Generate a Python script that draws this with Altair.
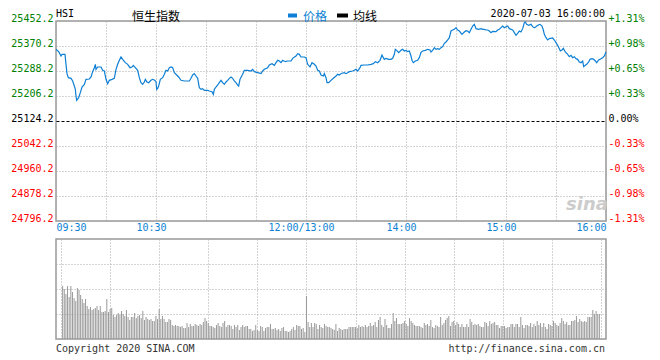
import altair as alt
import pandas as pd

# ---------------- data ----------------
price_minutes = [0, 1.6, 3, 3.6, 5.4, 6, 6.6, 7.4, 9, 10, 11, 11.6, 12, 12.4, 13.6, 14.6, 15.6, 17, 18, 20,
                 21, 22, 23, 23.6, 24, 25, 27, 28, 29, 30, 31, 32, 33.6, 35, 36, 37, 38, 39, 40, 41.6,
                 43, 44.4, 45.6, 46.4, 48, 49, 50, 51, 52, 53, 53.6, 54.4, 55.6, 57, 58, 59.2, 60, 60.4, 61, 61.6,
                 62.6, 64, 65, 66, 67, 68, 69, 70, 71, 72.4, 73.6, 75, 77, 80, 81, 82, 83, 84, 85, 86,
                 87, 88, 89, 91, 92, 93.6, 94.4, 95, 96, 97, 98, 99, 100, 101, 102, 103, 104, 105, 106, 107,
                 108, 109, 109.6, 110.4, 112, 113, 115, 117, 118, 119, 121, 123, 124, 125, 127, 128, 129.6, 131, 132, 133,
                 134, 135, 136, 137.6, 139, 141, 142, 144, 145, 146, 147, 149, 150, 151, 152.4, 153.6, 155, 156, 157, 158,
                 159, 160.4, 161, 162, 162.6, 163.6, 165, 166.4, 168, 169, 170, 171, 172, 173, 174, 175, 176, 178, 179, 180,
                 181, 182.4, 183, 185, 187, 189, 190.4, 191.6, 193, 194.4, 195.6, 196.4, 197, 198, 199.6, 201, 202, 203, 203.6, 204.4,
                 205.6, 207, 208, 209, 210, 211, 212, 213, 213.6, 214.4, 215.6, 217, 218, 219, 220, 221.6, 223, 224.4, 225, 226,
                 227, 228, 229, 230, 231, 232, 233, 234, 235, 236, 237, 238, 239, 240, 241, 242, 243.6, 245, 246, 247,
                 248, 249, 250, 251, 252, 253.6, 255, 256, 257, 258, 259, 260, 261, 262, 264, 265, 266, 267, 268, 269,
                 270, 271, 272, 274, 275, 276, 277, 278, 279, 280, 281, 281.6, 282.4, 283.6, 285, 286, 287, 288, 289, 290.4,
                 291.6, 292.4, 293, 294, 295, 296, 298, 299, 300, 301, 302, 302.6, 303.6, 304.4, 305.6, 307, 308, 309, 310, 311,
                 312, 313, 314, 315, 316, 316.6, 317.6, 318.4, 319.6, 320.4, 321.6, 322.6, 323.6, 324.4, 325.6, 327, 328, 329, 330]
price_values = [25359.3, 25351.6, 25337.4, 25342.9, 25342.9, 25310.1, 25279.5, 25266.3, 25264.2, 25255.4,
                25239.0, 25228.1, 25206.2, 25192.0, 25200.7, 25217.1, 25235.7, 25244.5, 25260.9, 25262.0,
                25268.5, 25286.0, 25299.1, 25310.1, 25293.7, 25301.3, 25301.3, 25290.4, 25288.2, 25260.9,
                25246.7, 25257.6, 25260.9, 25264.2, 25293.7, 25310.1, 25323.2, 25334.1, 25326.5, 25315.5,
                25310.1, 25299.1, 25301.3, 25306.8, 25297.0, 25290.4, 25266.3, 25249.9, 25244.5, 25252.1,
                25260.9, 25253.2, 25249.9, 25257.6, 25260.9, 25257.6, 25253.2, 25228.1, 25231.4, 25239.0,
                25260.9, 25266.3, 25277.3, 25290.4, 25288.2, 25299.1, 25301.3, 25299.1, 25282.7, 25275.1,
                25268.5, 25257.6, 25255.4, 25255.4, 25264.2, 25275.1, 25279.5, 25271.8, 25264.2, 25233.5,
                25228.1, 25230.3, 25224.8, 25224.8, 25222.6, 25220.4, 25211.7, 25228.1, 25235.7, 25242.3,
                25249.9, 25257.6, 25249.9, 25244.5, 25252.1, 25257.6, 25264.2, 25268.5, 25264.2, 25255.4,
                25249.9, 25242.3, 25239.0, 25260.9, 25277.3, 25290.4, 25290.4, 25288.2, 25293.7, 25286.0,
                25282.7, 25279.5, 25288.2, 25293.7, 25299.1, 25307.9, 25312.3, 25306.8, 25315.5, 25323.2,
                25321.0, 25315.5, 25323.2, 25318.8, 25321.0, 25321.0, 25329.8, 25337.4, 25345.1, 25342.9,
                25334.1, 25334.1, 25331.9, 25310.1, 25301.3, 25315.5, 25310.1, 25304.6, 25290.4, 25288.2,
                25275.1, 25271.8, 25279.5, 25266.3, 25249.9, 25249.9, 25257.6, 25264.2, 25271.8, 25277.3,
                25275.1, 25279.5, 25281.6, 25282.7, 25279.5, 25282.7, 25286.0, 25288.2, 25290.4, 25293.7,
                25288.2, 25299.1, 25306.8, 25307.9, 25307.9, 25310.1, 25312.3, 25318.8, 25315.5, 25323.2,
                25340.7, 25331.9, 25326.5, 25329.8, 25326.5, 25326.5, 25329.8, 25342.9, 25359.3, 25356.0,
                25348.3, 25356.0, 25359.3, 25353.8, 25356.0, 25351.6, 25353.8, 25337.4, 25323.2, 25315.5,
                25321.0, 25323.2, 25331.9, 25349.5, 25353.8, 25356.0, 25359.3, 25357.1, 25350.5, 25356.0,
                25364.7, 25359.3, 25361.5, 25359.3, 25364.7, 25368.0, 25378.9, 25383.3, 25389.9, 25397.5,
                25419.4, 25422.7, 25424.9, 25430.3, 25422.7, 25419.4, 25408.5, 25416.1, 25420.5, 25419.4,
                25413.9, 25424.9, 25435.8, 25441.3, 25427.1, 25424.9, 25427.1, 25424.9, 25424.9, 25422.7,
                25422.7, 25419.4, 25413.9, 25418.3, 25417.2, 25422.7, 25424.9, 25430.3, 25435.8, 25430.3,
                25433.6, 25435.8, 25427.1, 25422.7, 25413.9, 25405.2, 25411.7, 25419.4, 25416.1, 25427.1,
                25446.7, 25448.9, 25441.3, 25438.0, 25441.3, 25433.6, 25430.3, 25433.6, 25438.0, 25441.3,
                25435.8, 25422.7, 25408.5, 25397.5, 25389.9, 25394.3, 25396.4, 25389.9, 25381.1, 25372.4,
                25361.5, 25353.8, 25357.1, 25362.5, 25350.5, 25342.9, 25335.2, 25339.6, 25331.9, 25335.2,
                25328.7, 25326.5, 25317.7, 25315.5, 25321.0, 25302.4, 25306.8, 25310.1, 25317.7, 25326.5,
                25328.7, 25326.5, 25321.0, 25315.5, 25324.3, 25328.7, 25331.9, 25337.4, 25350.5]

volume_values = [53, 50, 45, 53, 42, 53, 47, 41, 38, 51, 49, 44, 40, 36, 40, 33, 30, 32, 29, 30,
                 31, 33, 29, 33, 27, 27, 28, 40, 27, 30, 31, 24, 22, 24, 26, 24, 28, 25, 23, 29,
                 22, 19, 22, 22, 26, 21, 23, 24, 21, 28, 19, 22, 20, 19, 20, 18, 18, 23, 20, 30,
                 20, 23, 20, 17, 17, 20, 19, 14, 13, 14, 13, 13, 12, 13, 11, 11, 16, 12, 15, 13,
                 13, 15, 14, 13, 15, 14, 17, 21, 18, 16, 13, 13, 12, 11, 14, 16, 13, 12, 16, 18,
                 12, 14, 14, 13, 10, 14, 12, 14, 9, 12, 14, 12, 13, 13, 10, 10, 8, 9, 14, 9,
                 8, 13, 12, 8, 11, 12, 12, 15, 10, 10, 11, 9, 10, 8, 11, 12, 8, 8, 7, 8,
                 10, 12, 9, 14, 13, 13, 10, 11, 7, 43, 17, 12, 16, 12, 16, 15, 10, 14, 12, 11,
                 15, 13, 12, 12,
                 11, 10, 9, 15, 8, 11, 10, 9, 10, 10, 10, 12, 12, 12, 12, 12, 11, 14, 12, 13,
                 12, 14, 12, 13, 16, 13, 14, 17, 12, 19, 22, 14, 12, 20, 14, 11, 11, 15, 26, 18,
                 21, 15, 15, 15, 16, 18, 15, 13, 21, 18, 16, 14, 13, 13, 13, 12, 11, 16, 14, 15,
                 13, 19, 12, 11, 14, 13, 12, 22, 14, 16, 19, 21, 23, 13, 17, 18, 14, 17, 15, 12,
                 15, 12, 12, 15, 12, 20, 17, 14, 15, 14, 15, 13, 12, 12, 17, 16, 13, 18, 15, 16,
                 17, 14, 14, 11, 13, 13, 13, 11, 12, 12, 15, 15, 12, 15, 15, 12, 22, 14, 11, 14,
                 14, 13, 16, 12, 15, 13, 18, 14, 16, 12, 16, 12, 10, 15, 14, 13, 18, 16, 14, 13,
                 16, 21, 18, 15, 17, 14, 14, 18, 18, 19, 23, 17, 20, 18, 17, 18, 17, 22, 22, 22,
                 29, 25, 28, 25, 25]
volume_minutes = list(range(1, len(volume_values) + 1))

prev_close = 25124.2
price_ticks = [24796.2, 24878.2, 24960.2, 25042.2, 25124.2, 25206.2, 25288.2, 25370.2, 25452.2]
grid_minutes = [0, 30, 60, 90, 120, 150, 180, 210, 240, 270, 300, 330]
time_tick_minutes = [0, 60, 150, 210, 270, 330]
time_tick_labels = ["09:30", "10:30", "12:00/13:00", "14:00", "15:00", "16:00"]
volume_grid = [25, 50, 75]

header_code = "HSI"
header_name = "恒生指数"
legend_price = "价格"
legend_avg = "均线"
header_time = "2020-07-03 16:00:00"
footer_left = "Copyright 2020 SINA.COM"
footer_right = "http://finance.sina.com.cn"
watermark = "sina"

# ---------------- styles ----------------
BLUE = "#0d7fd4"
GREEN = "#008000"
RED = "#ff0000"
GRID = "#a8a8a8"
MONO = "DejaVu Sans Mono"
CJK = "Noto Sans CJK SC"

price_df = pd.DataFrame({"minute": price_minutes, "price": price_values})
vol_df = pd.DataFrame({"minute": volume_minutes, "volume": volume_values})

time_expr = "".join(
    f"datum.value == {m} ? '{lab}' : " for m, lab in zip(time_tick_minutes, time_tick_labels)
) + "''"
is_base = f"abs(datum.value - {prev_close}) < 0.01"
pct_expr = (
    f"{is_base} ? '0.00%' : (datum.value > {prev_close} ? '+' : '-') + "
    f"format(abs(datum.value - {prev_close}) / {prev_close} * 100, '.2f') + '%'"
)
label_color = {
    "condition": [
        {"test": f"datum.value > {prev_close} + 0.01", "value": GREEN},
        {"test": f"datum.value < {prev_close} - 0.01", "value": RED},
    ],
    "value": "#000000",
}

x_scale = alt.Scale(domain=[0, 330], nice=False, zero=False)
y_scale = alt.Scale(domain=[price_ticks[0], price_ticks[-1]], nice=False, zero=False)

x_top = alt.X(
    "minute:Q", scale=x_scale,
    axis=alt.Axis(
        values=grid_minutes, labelExpr=time_expr, title=None, ticks=False, domain=False,
        grid=True, gridColor=GRID, gridDash=[1, 2], labelColor=BLUE, labelFont=MONO,
        labelFontSize=10, labelPadding=1, labelFlush=True, labelOverlap=False,
        labelOffset={"condition": {"test": "datum.value == 0 || datum.value == 330", "value": 0}, "value": -5},
    ),
)

left_axis = alt.Axis(
    values=price_ticks, format=".1f", title=None, ticks=False, domain=False, grid=True,
    gridColor={"condition": {"test": is_base, "value": "#000000"}, "value": GRID},
    gridDash={"condition": {"test": is_base, "value": [3, 2]}, "value": [1, 2]},
    labelColor=label_color, labelFont=MONO, labelFontSize=10, labelPadding=3,
    labelOffset=-3, labelFlush=False, labelOverlap=False,
)
right_axis = alt.Axis(
    values=price_ticks, labelExpr=pct_expr, title=None, ticks=False, domain=False, grid=False,
    orient="right", labelColor=label_color, labelFont=MONO, labelFontSize=10, labelPadding=2,
    labelOffset=-3, labelFlush=False, labelOverlap=False,
)

line = alt.Chart(price_df).mark_line(color=BLUE, strokeWidth=1.2).encode(
    x=x_top, y=alt.Y("price:Q", scale=y_scale, axis=left_axis)
)
right_layer = alt.Chart(price_df).mark_line(opacity=0).encode(
    x=x_top, y=alt.Y("price:Q", scale=y_scale, axis=right_axis)
)


def label_layer(text, font, size, color, x, y, align="left", **kw):
    return alt.Chart(pd.DataFrame({"t": [text]})).mark_text(
        font=font, fontSize=size, color=color, align=align, baseline="middle", **kw
    ).encode(text="t:N", x=alt.value(x), y=alt.value(y))


HY = -7      # latin header line
CY = -4      # CJK header line
marker_price = alt.Chart(pd.DataFrame({"t": [legend_price]})).mark_rule(color=BLUE, strokeWidth=4).encode(
    x=alt.value(232), x2=alt.value(241), y=alt.value(-5.5))
marker_avg = alt.Chart(pd.DataFrame({"t": [legend_avg]})).mark_rule(color="#000000", strokeWidth=4).encode(
    x=alt.value(281), x2=alt.value(292), y=alt.value(-5.5))

top = alt.layer(
    line, right_layer,
    label_layer(header_code, MONO, 10, "#000000", 0, HY),
    label_layer(header_name, CJK, 12, "#000000", 76, CY),
    marker_price, label_layer(legend_price, CJK, 12, BLUE, 247, CY),
    marker_avg, label_layer(legend_avg, CJK, 12, "#000000", 297, CY),
    label_layer(header_time, MONO, 10, "#000000", 549, HY, align="right"),
    label_layer(watermark, "DejaVu Sans", 18, "#cccccc", 531, 184, align="center",
                fontStyle="italic", fontWeight="bold"),
).resolve_axis(y="independent").properties(width=550, height=200)

bars = alt.Chart(vol_df).mark_bar(color="#999999", size=1).encode(
    x=alt.X("minute:Q", scale=x_scale,
            axis=alt.Axis(values=grid_minutes, labels=False, ticks=False, domain=False, title=None,
                          grid=True, gridColor=GRID, gridDash=[1, 2])),
    y=alt.Y("volume:Q", scale=alt.Scale(domain=[0, 100], nice=False),
            axis=alt.Axis(values=volume_grid, labels=False, ticks=False, domain=False, title=None,
                          grid=True, gridColor=GRID, gridDash=[1, 2])),
)
bottom = alt.layer(
    bars,
    label_layer(footer_left, MONO, 10, "#333333", 0, 110),
    label_layer(footer_right, MONO, 10, "#333333", 549, 110, align="right"),
).properties(width=550, height=100)

chart = alt.vconcat(top, bottom, spacing=5).properties(
    padding={"left": 2, "top": 0, "right": 4, "bottom": 0},
    background="#ffffff",
).configure_view(stroke="#999999", strokeWidth=1.5)

chart.save("out.html", embed_options={"renderer": "svg", "actions": False})
